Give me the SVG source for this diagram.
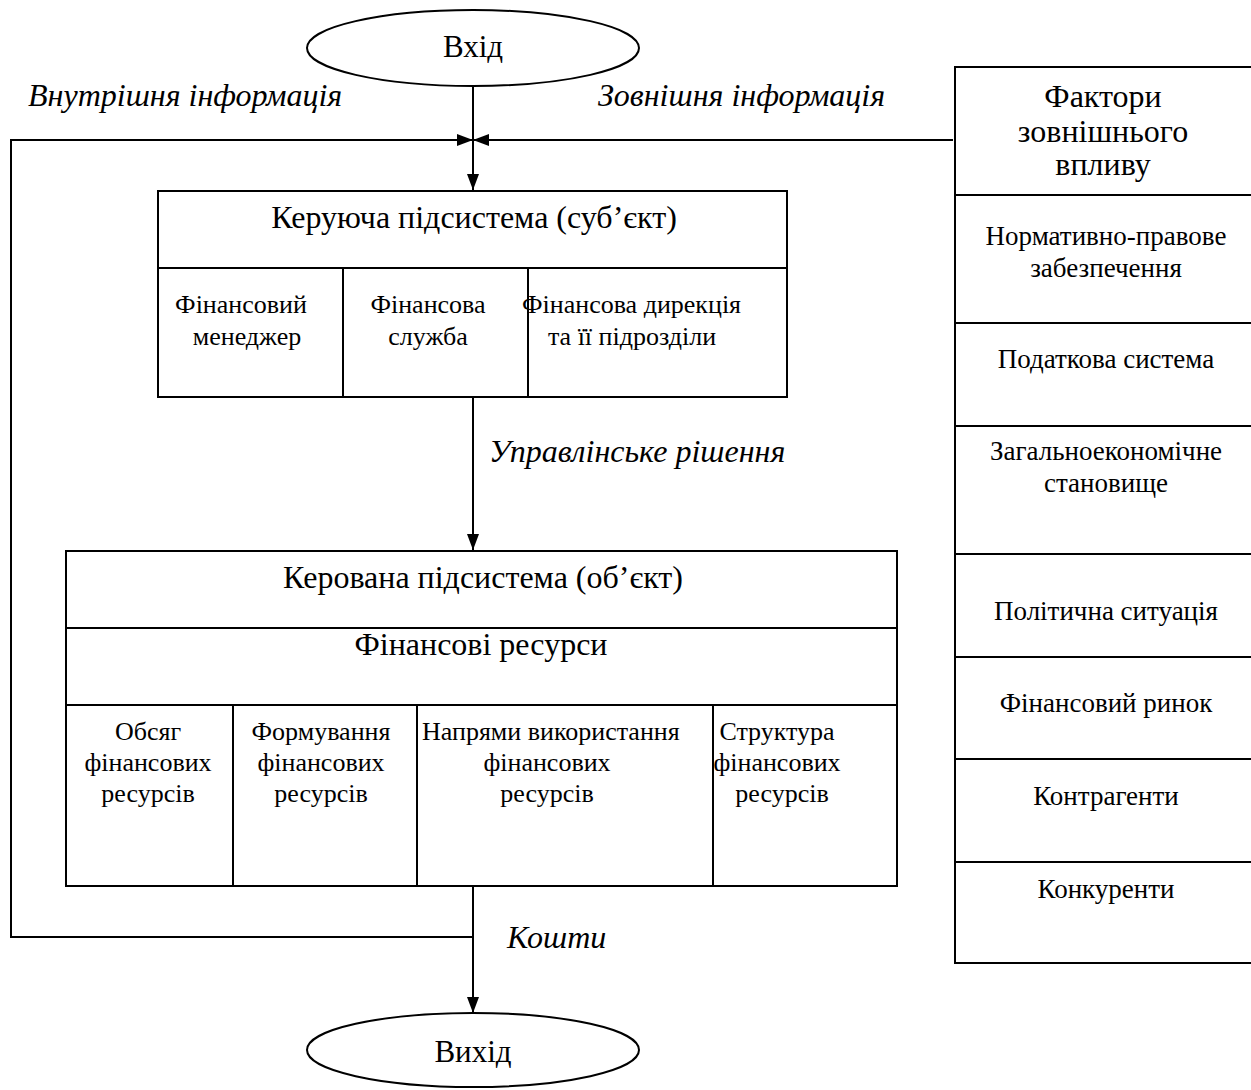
<svg xmlns="http://www.w3.org/2000/svg" width="1251" height="1090" viewBox="0 0 1251 1090">
<style>
text{font-family:"Liberation Serif","Times New Roman",serif;fill:#000}
.b{fill:#fff;stroke:#000;stroke-width:2}
.l{stroke:#000;stroke-width:2;fill:none}
.it{font-style:italic;font-size:32px}
.h{font-size:32px}
.e{font-size:31px}
.s{font-size:26px}
.f{font-size:27px}
.c{text-anchor:middle}
</style>
<defs>
<marker id="ah" viewBox="0 0 16 12" refX="16" refY="6" markerWidth="16" markerHeight="12" markerUnits="userSpaceOnUse" orient="auto">
<path d="M0,0 L16,6 L0,12 Z" fill="#000"/>
</marker>
</defs>
<g id="connectors">
<line class="l" x1="473" y1="87" x2="473" y2="190" marker-end="url(#ah)"/>
<polyline class="l" points="473,937 11,937 11,140 473,140" marker-end="url(#ah)"/>
<line class="l" x1="953" y1="140" x2="473" y2="140" marker-end="url(#ah)"/>
<line class="l" x1="473" y1="397" x2="473" y2="550" marker-end="url(#ah)"/>
<line class="l" x1="473" y1="886" x2="473" y2="1013" marker-end="url(#ah)"/>
</g>
<g id="labels">
<text class="it" x="28" y="106">Внутрішня інформація</text>
<text class="it" x="598" y="106">Зовнішня інформація</text>
<text class="it" x="489" y="462">Управлінське рішення</text>
<text class="it" x="507" y="948">Кошти</text>
</g>
<g id="input">
<ellipse class="b" cx="473" cy="48" rx="166" ry="38"/>
<text class="e c" x="473" y="57">Вхід</text>
</g>
<g id="output">
<ellipse class="b" cx="473" cy="1050" rx="166" ry="37"/>
<text class="e c" x="473" y="1062">Вихід</text>
</g>
<g id="control">
<rect class="b" x="158" y="191" width="629" height="206"/>
<line class="l" x1="158" y1="268" x2="787" y2="268"/>
<line class="l" x1="343" y1="268" x2="343" y2="397"/>
<line class="l" x1="528" y1="268" x2="528" y2="397"/>
<text class="h c" x="474" y="228">Керуюча підсистема (суб’єкт)</text>
<text class="s c" x="241" y="313">Фінансовий</text>
<text class="s c" x="247" y="345">менеджер</text>
<text class="s c" x="428" y="313">Фінансова</text>
<text class="s c" x="428" y="345">служба</text>
<text class="s" x="522" y="313">Фінансова дирекція</text>
<text class="s c" x="632" y="345">та її підрозділи</text>
</g>
<g id="managed">
<rect class="b" x="66" y="551" width="831" height="335"/>
<line class="l" x1="66" y1="628" x2="897" y2="628"/>
<line class="l" x1="66" y1="705" x2="897" y2="705"/>
<line class="l" x1="233" y1="705" x2="233" y2="886"/>
<line class="l" x1="417" y1="705" x2="417" y2="886"/>
<line class="l" x1="713" y1="705" x2="713" y2="886"/>
<text class="h c" x="483" y="588">Керована підсистема (об’єкт)</text>
<text class="h c" x="481" y="655">Фінансові ресурси</text>
<text class="s c" x="148" y="740">Обсяг</text>
<text class="s c" x="148" y="771">фінансових</text>
<text class="s c" x="148" y="802">ресурсів</text>
<text class="s c" x="321" y="740">Формування</text>
<text class="s c" x="321" y="771">фінансових</text>
<text class="s c" x="321" y="802">ресурсів</text>
<text class="s" x="422" y="740">Напрями використання</text>
<text class="s c" x="547" y="771">фінансових</text>
<text class="s c" x="547" y="802">ресурсів</text>
<text class="s c" x="777" y="740">Структура</text>
<text class="s c" x="777" y="771">фінансових</text>
<text class="s c" x="782" y="802">ресурсів</text>
</g>
<g id="factors">
<rect class="b" x="955" y="67" width="310" height="896"/>
<line class="l" x1="955" y1="195" x2="1260" y2="195"/>
<line class="l" x1="955" y1="323" x2="1260" y2="323"/>
<line class="l" x1="955" y1="426" x2="1260" y2="426"/>
<line class="l" x1="955" y1="554" x2="1260" y2="554"/>
<line class="l" x1="955" y1="657" x2="1260" y2="657"/>
<line class="l" x1="955" y1="759" x2="1260" y2="759"/>
<line class="l" x1="955" y1="862" x2="1260" y2="862"/>
<text class="h c" x="1103" y="107">Фактори</text>
<text class="h c" x="1103" y="142">зовнішнього</text>
<text class="h c" x="1103" y="175">впливу</text>
<text class="f c" x="1106" y="245">Нормативно-правове</text>
<text class="f c" x="1106" y="277">забезпечення</text>
<text class="f c" x="1106" y="368">Податкова система</text>
<text class="f c" x="1106" y="460">Загальноекономічне</text>
<text class="f c" x="1106" y="492">становище</text>
<text class="f c" x="1106" y="620">Політична ситуація</text>
<text class="f c" x="1106" y="712">Фінансовий ринок</text>
<text class="f c" x="1106" y="805">Контрагенти</text>
<text class="f c" x="1106" y="898">Конкуренти</text>
</g>
</svg>
